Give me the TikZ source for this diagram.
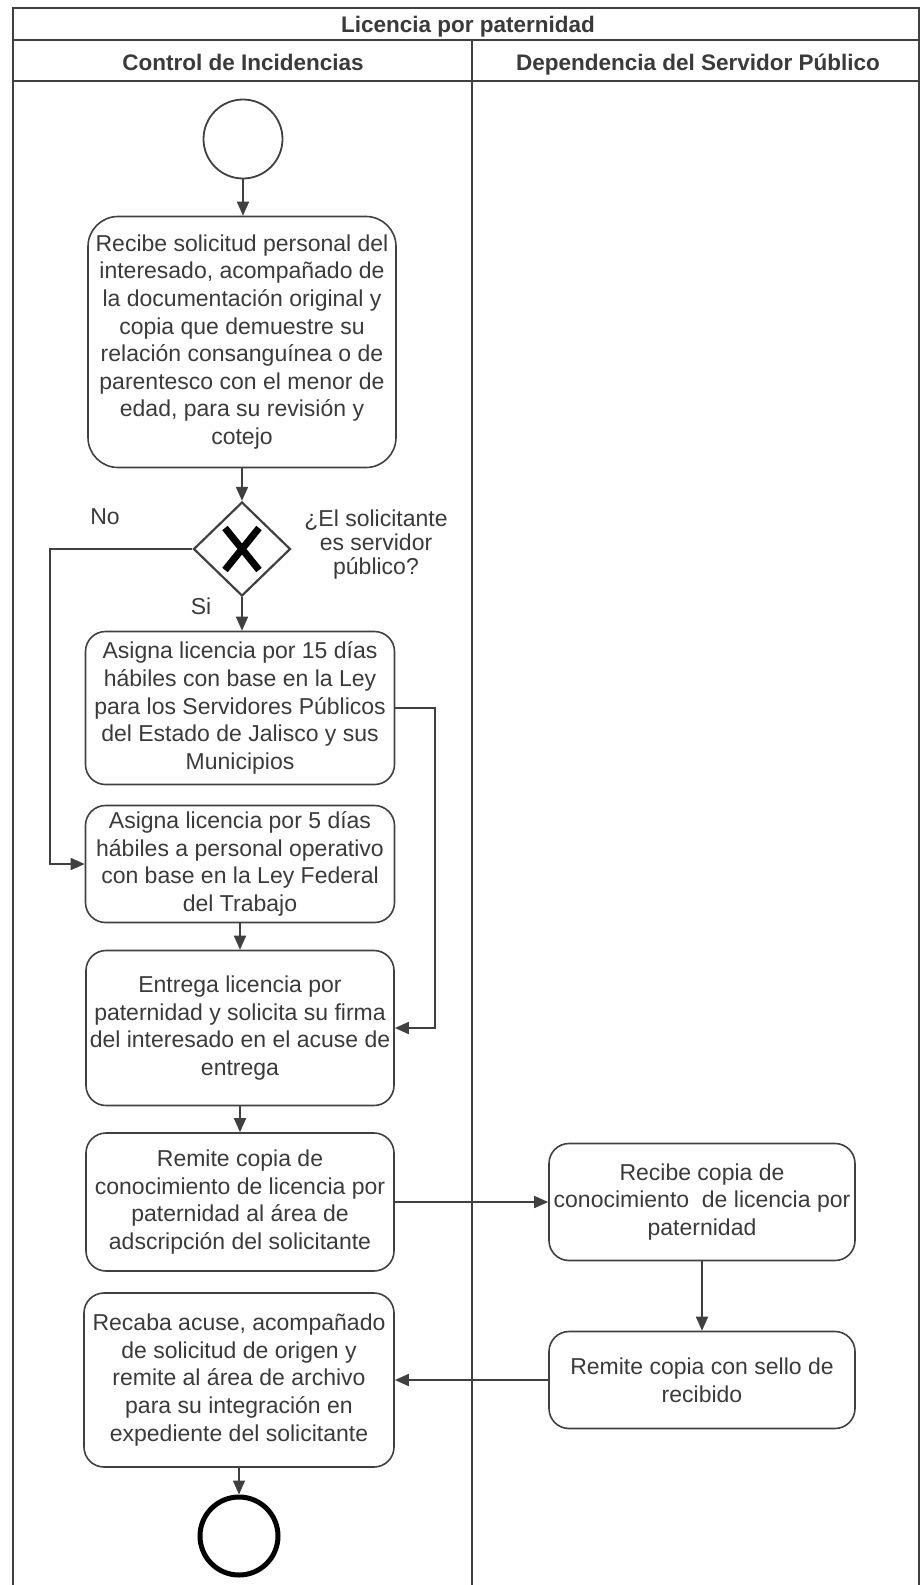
\documentclass[tikz,border=0pt]{standalone}
\usepackage{fontspec}
\setmainfont{Liberation Sans}
\usetikzlibrary{arrows.meta,shapes.geometric}
\definecolor{txtc}{HTML}{3A3A3A}
\definecolor{linec}{HTML}{404040}
\tikzset{
  box/.style={draw=linec, line width=1.6pt, rounded corners=20pt, align=center,
    text=txtc, inner sep=2pt, font=\fontsize{23}{27.6}\selectfont},
  arr/.style={draw=linec, line width=1.6pt, -{Triangle[length=14pt,width=12pt]}},
  lanehead/.style={text=txtc, anchor=base, font=\bfseries\fontsize{22.5}{27}\selectfont},
  lbl/.style={text=txtc, align=center, font=\fontsize{23}{24}\selectfont},
  frame/.style={draw=linec, line width=1.8pt}
}
\begin{document}
\begin{tikzpicture}[x=1pt,y=-1pt]
\useasboundingbox (0,0) rectangle (921,1585);
% pool frame
\draw[frame] (13,1585) -- (13,8) -- (919,8) -- (919,1585);
\draw[frame] (13,40) -- (919,40);
\draw[frame] (13,81) -- (919,81);
\draw[frame] (472,40) -- (472,1585);
\node[lanehead] (title) at (468,32) {Licencia por paternidad};
\node[lanehead] (lane1) at (243,70) {Control de Incidencias};
\node[lanehead] (lane2) at (698,70) {Dependencia del Servidor Público};

% events
\node[draw=linec, line width=1.8pt, circle, minimum size=79pt, inner sep=0pt] (start) at (243,139) {};
\node[draw=black, line width=5pt, circle, minimum size=78pt, inner sep=0pt] (end) at (239,1536) {};

% tasks
\node[box, rounded corners=30pt, minimum width=308pt, minimum height=251pt] (b1) at (242,342)
 {Recibe solicitud personal del\\interesado, acompañado de\\la documentación original y\\copia que demuestre su\\relación consanguínea o de\\parentesco con el menor de\\edad, para su revisión y\\cotejo};
\node[draw=linec, line width=2.2pt, diamond, aspect=1, minimum width=97pt, minimum height=94pt, inner sep=0pt] (gw) at (242,549) {};
\draw[line width=7pt, black] ([shift={(-17,-21)}]gw.center) -- ([shift={(17,21)}]gw.center);
\draw[line width=7pt, black] ([shift={(-17,21)}]gw.center) -- ([shift={(17,-21)}]gw.center);
\node[lbl] (no) at (105,517) {No};
\node[lbl] (si) at (201,606) {Si};
\node[lbl] (q) at (376,545) {¿El solicitante\\es servidor\\público?};

\node[box, minimum width=309pt, minimum height=153pt] (b2) at (240,708)
 {Asigna licencia por 15 días\\hábiles con base en la Ley\\para los Servidores Públicos\\del Estado de Jalisco y sus\\Municipios};
\node[box, minimum width=309pt, minimum height=117pt] (b3) at (240,864)
 {Asigna licencia por 5 días\\hábiles a personal operativo\\con base en la Ley Federal\\del Trabajo};
\node[box, minimum width=308pt, minimum height=155pt] (b4) at (240,1028)
 {Entrega licencia por\\paternidad y solicita su firma\\del interesado en el acuse de\\entrega};
\node[box, minimum width=308pt, minimum height=138pt] (b5) at (240,1202)
 {Remite copia de\\conocimiento de licencia por\\paternidad al área de\\adscripción del solicitante};
\node[box, minimum width=306pt, minimum height=117pt] (b6) at (702,1202)
 {Recibe copia de\\conocimiento\ \ de licencia por\\paternidad};
\node[box, minimum width=306pt, minimum height=97pt] (b7) at (702,1380)
 {Remite copia con sello de\\recibido};
\node[box, minimum width=310pt, minimum height=174pt] (b8) at (239,1380)
 {Recaba acuse, acompañado\\de solicitud de origen y\\remite al área de archivo\\para su integración en\\expediente del solicitante};

% connectors
\coordinate (cno) at (50,549);
\coordinate (c15) at (435,708);
\draw[arr] (start.south) -- (start.south |- b1.north);
\draw[arr] (b1.south -| gw.north) -- (gw.north);
\draw[arr] (gw.south) -- (gw.south |- b2.north);
\draw[arr] (gw.west) -- (cno) |- (b3.west);
\draw[arr] (b2.east) -- (c15) |- (b4.east);
\draw[arr] (b3.south) -- (b4.north);
\draw[arr] (b4.south) -- (b5.north);
\draw[arr] (b5.east) -- (b6.west);
\draw[arr] (b6.south) -- (b7.north);
\draw[arr] (b7.west) -- (b8.east);
\draw[arr] (b8.south) -- (end.north);
\end{tikzpicture}
\end{document}
